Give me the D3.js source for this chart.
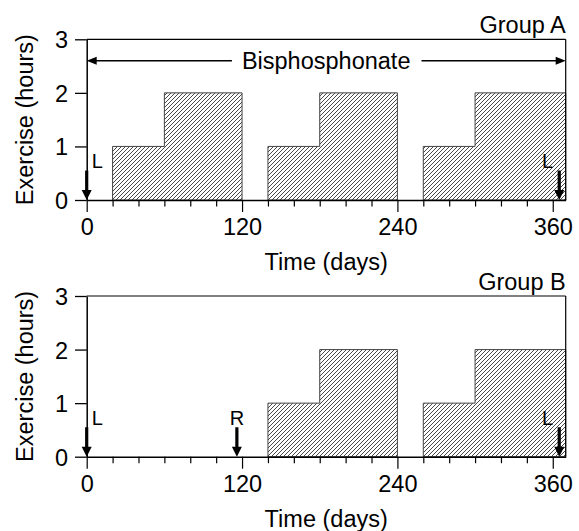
<!DOCTYPE html>
<html>
<head>
<meta charset="utf-8">
<script src="https://cdn.jsdelivr.net/npm/d3@7"></script>
<style>
  body { margin: 0; background: #fff; }
  svg { font-family: "Liberation Sans", Arial, Helvetica, sans-serif; }
</style>
</head>
<body>
<svg id="chart" width="579" height="531"></svg>
<script>
// exercise blocks: [start day, end day, hours]
const groupA_bars = [
  [20, 60, 1], [60, 120, 2],
  [140, 180, 1], [180, 240, 2],
  [260, 300, 1], [300, 370, 2],
]
const groupB_bars = [
  [140, 180, 1], [180, 240, 2],
  [260, 300, 1], [300, 370, 2],
]
// event arrows: [day, label]
const groupA_marks = [[0, "L"], [365, "L"]]
const groupB_marks = [[0, "L"], [116, "R"], [365, "L"]]

const x_ticks = d3.range(0, 361, 20)
const x_labels = [0, 120, 240, 360]
const y_ticks = [0, 1, 2, 3]
const drug_label = "Bisphosphonate"

const svg = d3.select("#chart")
const fontSize = 23.5

const xScale = d3.scaleLinear().domain([0, 370]).range([86.7, 565.7])

// hatch pattern
const defs = svg.append("defs")
defs.append("pattern")
  .attr("id", "hatch")
  .attr("patternUnits", "userSpaceOnUse")
  .attr("width", 4)
  .attr("height", 4)
  .append("path")
  .attr("d", "M0,4 L4,0 M-1,1 L1,-1 M3,5 L5,3")
  .attr("stroke", "#1a1a1a")
  .attr("stroke-width", 0.8)

function blocks(bars) {
  // join contiguous segments into one outline
  let out = []
  bars.forEach((b) => {
    let last = out[out.length - 1]
    if (last && last[last.length - 1][1] === b[0]) last.push(b)
    else out.push([b])
  })
  return out
}

function draw_panel(bars, marks, top, name, showDrug) {
  const yScale = d3.scaleLinear().domain([0, 3]).range([top + 160.7, top])
  const g = svg.append("g")

  // bars
  blocks(bars).forEach((blk) => {
    let pts = [[blk[0][0], 0]]
    blk.forEach((b) => { pts.push([b[0], b[2]]); pts.push([b[1], b[2]]) })
    pts.push([blk[blk.length - 1][1], 0])
    g.append("path")
      .attr("d", d3.line().x((d) => xScale(d[0])).y((d) => yScale(d[1]))(pts) + "Z")
      .attr("fill", "url(#hatch)")
      .attr("stroke", "#444")
      .attr("stroke-width", 1)
  })

  // frame
  g.append("line")
    .attr("x1", xScale(0)).attr("x2", xScale(370))
    .attr("y1", yScale(3)).attr("y2", yScale(3))
    .attr("stroke", "#000").attr("stroke-width", 1.2)
  g.append("line")
    .attr("x1", xScale(370)).attr("x2", xScale(370))
    .attr("y1", yScale(3)).attr("y2", yScale(0))
    .attr("stroke", "#000").attr("stroke-width", 1.2)

  // x axis
  const xAxis = d3.axisBottom(xScale)
    .tickValues(x_ticks)
    .tickSizeOuter(0)
    .tickFormat((d) => (x_labels.includes(d) ? d : ""))
  const gx = g.append("g")
    .attr("transform", `translate(0,${yScale(0)})`)
    .call(xAxis)
  gx.select(".domain").attr("stroke-width", 1.5)
  gx.selectAll(".tick line")
    .attr("y2", (d) => (x_labels.includes(d) ? 12 : 6.5))
    .attr("stroke-width", 1.2)
  gx.selectAll(".tick text")
    .attr("y", 35).attr("dy", null)
    .attr("font-size", fontSize)
    .attr("font-family", null)
    .attr("fill", "#000")

  // y axis
  const yAxis = d3.axisLeft(yScale)
    .tickValues(y_ticks)
    .tickFormat(d3.format("d"))
    .tickSize(11.7)
    .tickSizeOuter(0)
  const gy = g.append("g")
    .attr("transform", `translate(${xScale(0)},0)`)
    .call(yAxis)
  gy.select(".domain").attr("stroke-width", 1.5)
  gy.selectAll(".tick line").attr("stroke-width", 1.3)
  gy.selectAll(".tick text")
    .attr("x", -18.5).attr("dy", "0.36em")
    .attr("font-size", fontSize)
    .attr("font-family", null)
    .attr("fill", "#000")

  // axis labels
  g.append("text")
    .attr("x", (xScale.range()[0] + xScale.range()[1]) / 2)
    .attr("y", yScale(0) + 70)
    .attr("text-anchor", "middle")
    .attr("font-size", fontSize)
    .text("Time (days)")
  g.append("text")
    .attr("transform", `translate(33,${yScale(1.5)}) rotate(-90)`)
    .attr("text-anchor", "middle")
    .attr("font-size", fontSize)
    .text("Exercise (hours)")
  g.append("text")
    .attr("x", xScale(370))
    .attr("y", yScale(3) - 6.5)
    .attr("text-anchor", "end")
    .attr("font-size", fontSize)
    .text(name)

  // event arrows
  marks.forEach(([day, label]) => {
    const cx = xScale(day)
    const tip = yScale(0)
    g.append("line")
      .attr("x1", cx).attr("x2", cx)
      .attr("y1", yScale(0.55)).attr("y2", tip - 7)
      .attr("stroke", "#000").attr("stroke-width", 3.2)
    g.append("path")
      .attr("d", `M${cx - 5},${tip - 10} L${cx + 5},${tip - 10} L${cx},${tip} Z`)
      .attr("fill", "#000")
    let anchor = day === 0 ? "start" : day > 300 ? "end" : "middle"
    let dx = day === 0 ? 5 : day > 300 ? -6 : 0
    g.append("text")
      .attr("x", cx + dx)
      .attr("y", yScale(0.6))
      .attr("text-anchor", anchor)
      .attr("font-size", 20)
      .text(label)
  })

  // treatment span
  if (showDrug) {
    const yy = yScale(2.6)
    const mid = xScale(185)
    const t = g.append("text")
      .attr("x", mid).attr("y", yy + 8)
      .attr("text-anchor", "middle")
      .attr("font-size", fontSize)
      .text(drug_label)
    const half = t.node().getComputedTextLength() / 2
    const x0 = xScale(0), x1 = xScale(370)
    g.append("line")
      .attr("x1", x0 + 6).attr("x2", mid - half - 10)
      .attr("y1", yy).attr("y2", yy)
      .attr("stroke", "#000").attr("stroke-width", 1.3)
    g.append("line")
      .attr("x1", mid + half + 11).attr("x2", x1 - 6)
      .attr("y1", yy).attr("y2", yy)
      .attr("stroke", "#000").attr("stroke-width", 1.3)
    g.append("path")
      .attr("d", `M${x0},${yy} L${x0 + 10},${yy - 4} L${x0 + 10},${yy + 4} Z`)
      .attr("fill", "#000")
    g.append("path")
      .attr("d", `M${x1},${yy} L${x1 - 10},${yy - 4} L${x1 - 10},${yy + 4} Z`)
      .attr("fill", "#000")
  }
}

draw_panel(groupA_bars, groupA_marks, 39.3, "Group A", true)
draw_panel(groupB_bars, groupB_marks, 296, "Group B", false)
</script>
</body>
</html>
